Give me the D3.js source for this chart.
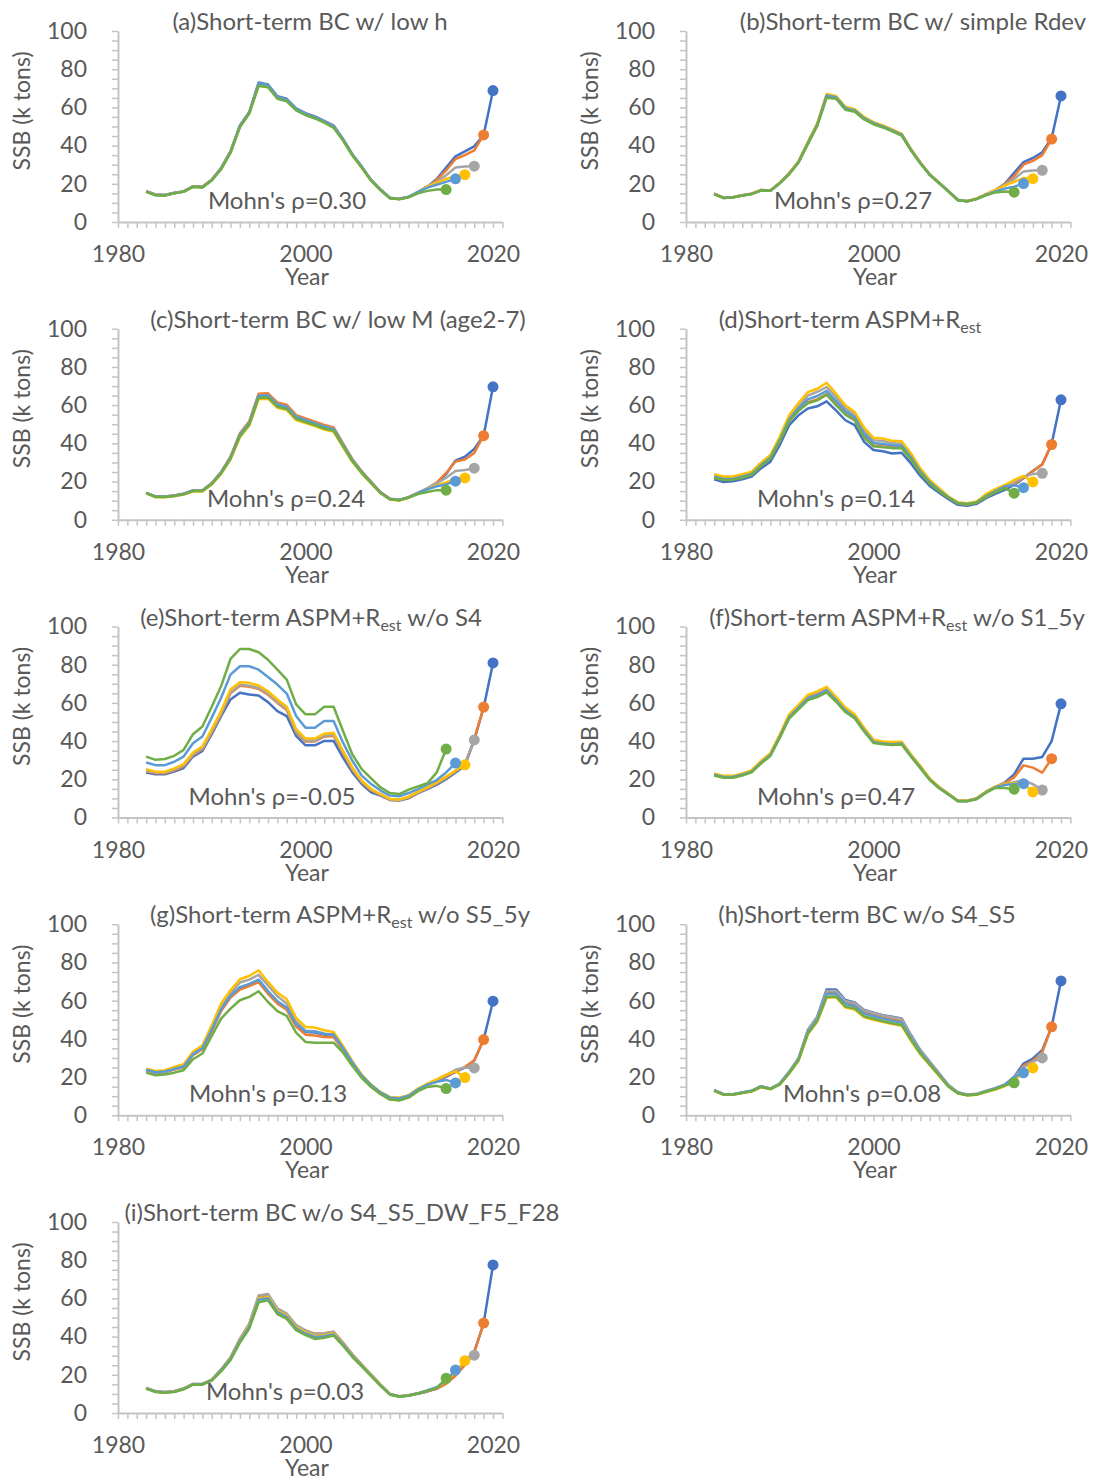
<!DOCTYPE html>
<html>
<head>
<meta charset="utf-8">
<script src="https://cdn.jsdelivr.net/npm/d3@7"></script>
<style>
  body { margin: 0; background: #fff; }
  text { font-family: Lato, "Open Sans", sans-serif; fill: #595959; }
</style>
</head>
<body>
<div id="chart"></div>
<script>
// Retrospective SSB runs, one line per terminal year (peel)
const years = [1983, 1984, 1985, 1986, 1987, 1988, 1989, 1990, 1991, 1992,
  1993, 1994, 1995, 1996, 1997, 1998, 1999, 2000, 2001, 2002,
  2003, 2004, 2005, 2006, 2007, 2008, 2009, 2010, 2011, 2012,
  2013, 2014, 2015, 2016, 2017, 2018, 2019, 2020];
const peelYears = [2020, 2019, 2018, 2017, 2016, 2015];
const seriesColors = ['#4472C4', '#ED7D31', '#A5A5A5', '#FFC000', '#5B9BD5', '#70AD47'];

const titles = [
  '(a)Short-term BC w/ low h',
  '(b)Short-term BC w/ simple Rdev',
  '(c)Short-term BC w/ low M (age2-7)',
  '(d)Short-term ASPM+R_est',
  '(e)Short-term ASPM+R_est w/o S4',
  '(f)Short-term ASPM+R_est w/o S1_5y',
  '(g)Short-term ASPM+R_est w/o S5_5y',
  '(h)Short-term BC w/o S4_S5',
  '(i)Short-term BC w/o S4_S5_DW_F5_F28'
];
const mohnRho = ['0.30', '0.27', '0.24', '0.14', '-0.05', '0.47', '0.13', '0.08', '0.03'];

// each panel: [2020, 2019, 2018, 2017, 2016, 2015] runs
const ssbA = [
  [16.1,14.4,14.2,15.3,16.0,18.7,18.4,22.2,28.3,37.0, 50.5,57.5,73.0,72.0,65.8,64.5,59.5,57.0,55.3,53.0, 50.5,43.5,35.5,29.0,22.0,17.0,12.7,12.2,13.2,15.8, 18.5,22.5,28.5,34.4,37.0,39.6,45.5,68.8],
  [16.0,14.3,14.1,15.2,16.0,18.6,18.3,22.1,28.2,36.8, 50.3,57.3,72.5,71.6,65.4,64.2,59.2,56.7,55.0,52.7, 50.2,43.3,35.3,28.8,21.9,16.9,12.6,12.1,13.1,15.7, 18.4,22.0,27.0,33.0,35.0,37.5,45.6],
  [16.0,14.3,14.1,15.2,16.0,18.6,18.3,22.0,28.1,36.7, 50.2,57.2,72.3,71.5,65.2,64.0,59.0,56.5,54.8,52.5, 50.0,43.2,35.2,28.7,21.8,16.8,12.5,12.0,13.0,15.6, 18.8,21.0,24.5,28.5,29.0,29.2],
  [15.9,14.2,14.0,15.1,15.9,18.5,18.2,21.9,28.0,36.5, 50.0,57.0,72.0,71.2,65.0,63.8,58.8,56.3,54.6,52.3, 49.8,43.0,35.1,28.6,21.8,16.8,12.5,12.0,13.0,15.6, 18.6,20.5,22.5,24.0,24.8],
  [15.9,14.2,14.0,15.1,15.9,18.5,18.2,21.9,28.0,36.6, 50.2,57.3,72.6,71.7,65.5,64.2,59.2,56.7,55.0,52.7, 50.2,43.3,35.3,28.8,21.9,16.9,12.6,12.1,13.1,15.6, 18.0,19.5,21.0,22.6],
  [15.8,14.0,13.8,15.0,15.8,18.4,18.1,21.7,27.6,36.2, 49.6,56.8,71.2,70.6,64.5,63.2,58.4,56.0,54.2,52.0, 49.3,42.6,34.8,28.4,21.6,16.6,12.4,11.9,12.9,15.0, 16.3,17.0,17.0]
];
const ssbB = [
  [14.8,12.7,13.0,14.0,14.8,16.7,16.5,20.5,25.3,31.4, 41.3,51.0,66.0,65.1,59.5,58.3,54.3,51.7,50.0,47.9, 45.7,37.8,30.9,24.8,20.5,16.1,11.5,10.9,12.2,14.4, 16.7,20.0,25.7,31.4,33.5,36.5,43.9,66.0],
  [14.8,12.7,13.0,14.0,14.8,16.7,16.5,20.5,25.4,31.6, 41.6,51.3,66.5,65.6,60.0,58.8,54.7,52.0,50.3,48.2, 46.0,38.0,31.0,24.9,20.5,16.1,11.5,10.9,12.2,14.4, 16.7,19.8,24.0,30.0,32.0,35.0,43.4],
  [14.7,12.6,12.9,13.9,14.7,16.6,16.4,20.4,25.3,31.5, 41.5,51.2,66.4,65.5,59.8,58.6,54.5,51.9,50.2,48.1, 45.9,37.9,31.0,24.9,20.5,16.1,11.5,10.9,12.2,14.4, 16.8,19.5,22.5,26.5,27.0,27.1],
  [14.8,12.7,13.0,14.0,14.8,16.8,16.6,20.6,25.6,31.8, 42.0,51.6,67.0,66.0,60.3,59.0,55.0,52.3,50.6,48.5, 46.3,38.2,31.2,25.0,20.6,16.2,11.6,11.0,12.3,14.5, 16.8,19.0,21.0,23.0,22.7],
  [14.7,12.6,12.9,13.9,14.7,16.6,16.4,20.4,25.3,31.4, 41.4,51.0,66.2,65.3,59.6,58.4,54.4,51.8,50.1,48.0, 45.8,37.8,30.9,24.8,20.5,16.1,11.5,10.9,12.1,14.2, 16.0,17.5,18.5,20.1],
  [14.6,12.5,12.8,13.8,14.6,16.5,16.3,20.2,25.0,31.0, 40.8,50.3,65.0,64.5,58.8,57.7,53.7,51.2,49.5,47.4, 45.2,37.4,30.6,24.6,20.3,15.9,11.4,10.8,12.0,14.0, 15.5,16.0,15.6]
];
const ssbC = [
  [14.1,12.2,12.2,12.7,13.6,15.3,15.3,19.1,24.9,32.7, 44.9,51.0,65.4,65.7,60.9,59.7,54.4,52.7,51.0,49.2, 48.0,39.7,31.5,25.2,19.7,14.4,11.0,10.4,11.8,14.1, 16.2,18.8,24.0,31.0,33.0,37.0,44.0,69.6],
  [14.1,12.2,12.2,12.7,13.6,15.3,15.3,19.2,25.0,33.0, 45.3,51.5,66.0,66.2,61.4,60.2,54.8,53.1,51.4,49.6, 48.3,40.0,31.7,25.3,19.8,14.5,11.0,10.4,11.8,14.1, 16.4,19.5,24.5,30.5,31.5,35.0,44.0],
  [14.0,12.1,12.1,12.6,13.5,15.2,15.2,19.0,24.8,32.6, 44.7,50.8,65.0,65.2,60.5,59.3,54.0,52.3,50.6,48.8, 47.6,39.4,31.3,25.0,19.6,14.3,10.9,10.3,11.7,14.0, 16.5,19.0,22.0,25.5,26.0,27.0],
  [13.8,11.8,11.8,12.3,13.2,14.8,14.8,18.4,24.0,31.5, 43.2,49.3,63.2,63.4,58.6,57.5,52.2,50.6,49.0,47.2, 46.0,38.0,30.2,24.2,19.0,13.9,10.6,10.1,11.5,13.8, 16.0,18.0,19.5,21.5,21.9],
  [14.0,12.1,12.1,12.6,13.5,15.2,15.2,19.0,24.7,32.4, 44.4,50.5,64.8,65.0,60.2,59.0,53.8,52.1,50.4,48.6, 47.4,39.2,31.1,24.9,19.5,14.2,10.8,10.3,11.7,14.0, 16.0,17.5,18.5,20.2],
  [13.9,11.9,11.9,12.4,13.3,15.0,15.0,18.7,24.3,31.9, 43.7,49.8,63.8,64.0,59.2,58.0,52.8,51.2,49.6,47.8, 46.6,38.6,30.6,24.5,19.2,14.0,10.7,10.2,11.6,13.5, 14.5,15.5,15.5]
];
const ssbD = [
  [21.2,19.8,20.1,21.2,22.6,26.9,30.4,39.1,49.5,54.7, 58.2,59.4,62.0,57.3,52.1,49.5,40.8,36.5,35.9,34.7, 35.1,29.5,22.9,17.7,14.2,10.8,7.8,7.3,8.3,11.3, 13.5,15.6,18.2,21.7,25.5,29.0,39.6,62.8],
  [22.4,21.2,21.5,22.4,23.9,28.4,32.4,41.5,52.0,57.5, 61.5,63.0,65.8,60.5,55.4,52.4,43.4,38.9,38.4,37.9, 37.9,31.9,24.8,19.3,15.2,11.6,8.5,8.0,9.0,12.0, 14.5,16.8,18.8,22.0,25.5,29.0,39.4],
  [23.0,21.8,21.8,23.0,24.4,29.0,33.0,42.3,53.3,59.5, 65.0,67.0,69.5,64.3,58.3,55.0,46.8,41.6,41.2,40.0, 39.8,33.6,26.0,20.1,15.9,11.8,8.9,8.4,9.2,13.0, 15.5,17.5,19.5,22.5,24.0,24.3],
  [23.8,22.6,22.6,23.8,25.2,29.9,33.9,43.4,54.7,61.1, 66.8,68.6,71.7,66.0,59.9,56.4,48.3,42.9,42.5,41.3, 41.1,34.7,26.9,20.8,16.5,12.2,9.2,8.7,9.5,13.5, 16.0,18.2,20.8,22.9,19.8],
  [22.6,21.3,21.4,22.6,24.0,28.6,32.6,41.8,52.5,58.3, 63.0,64.8,67.5,62.2,56.8,53.6,45.0,40.2,39.7,39.0, 38.8,32.7,25.3,19.6,15.5,11.7,8.7,8.2,9.1,12.4, 15.0,17.5,18.0,16.8],
  [22.0,20.8,21.0,22.0,23.5,28.0,32.0,41.0,51.5,57.0, 61.0,62.5,65.5,60.0,55.0,52.0,43.0,38.5,38.0,37.5, 37.5,31.5,24.5,19.0,15.0,11.5,8.5,8.0,9.0,12.0, 14.5,16.5,13.9]
];
const ssbE = [
  [23.6,22.6,22.6,24.0,25.9,31.9,34.9,43.6,53.1,61.8, 65.3,64.4,63.9,60.4,55.7,53.1,42.7,37.8,37.8,40.1, 40.1,31.4,23.6,17.5,13.2,11.5,9.2,8.9,10.1,12.8, 14.9,17.2,20.1,23.6,27.1,40.6,57.5,80.9],
  [24.2,23.2,23.2,24.6,26.8,32.6,35.8,44.6,54.0,65.0, 69.0,68.5,67.3,64.3,60.0,56.3,44.5,39.8,39.8,42.3, 42.8,33.5,25.0,18.4,14.2,11.8,9.3,9.0,10.4,13.0, 15.3,17.8,20.7,24.2,27.8,41.0,57.8],
  [24.5,23.5,23.5,25.0,27.3,33.0,36.3,45.0,54.5,65.5, 69.5,69.0,67.8,64.8,60.5,56.8,45.0,40.3,40.3,42.8, 43.3,34.0,25.5,18.8,14.5,12.0,9.5,9.2,10.6,13.2, 15.5,18.0,21.0,24.5,28.0,40.6],
  [25.3,24.0,24.0,25.7,28.0,34.0,37.2,46.2,55.7,67.0, 70.8,70.5,69.1,66.1,61.8,58.0,46.2,41.3,41.3,43.9, 44.4,34.9,26.2,19.3,14.9,12.3,9.7,9.4,10.9,13.5, 15.8,18.4,21.4,24.5,27.6],
  [28.8,27.4,27.4,29.2,31.9,38.9,42.4,52.3,62.7,74.8, 79.2,79.2,77.4,73.6,69.6,64.9,53.1,47.0,47.0,50.5, 50.5,39.2,29.7,21.9,17.5,14.1,11.5,11.1,12.8,14.9, 17.2,19.6,23.6,28.5],
  [31.9,30.2,30.6,32.3,35.4,43.6,47.6,58.0,68.8,83.0, 88.2,88.2,86.5,82.6,77.4,72.2,59.2,54.0,54.0,58.0, 58.0,45.3,33.0,25.3,20.5,15.8,12.8,12.3,14.6,16.3, 17.9,23.6,35.8]
];
const ssbF = [
  [22.6,21.4,21.4,22.6,24.3,29.0,33.0,42.6,53.0,57.9, 63.1,64.7,67.3,62.1,56.5,53.0,46.1,40.0,39.1,38.8, 39.1,32.5,26.4,20.0,15.7,12.2,8.7,8.7,9.9,13.4, 16.0,18.3,22.6,30.8,30.8,31.7,40.0,59.5],
  [22.6,21.4,21.4,22.6,24.3,29.0,33.0,42.6,53.0,58.0, 63.3,65.0,67.6,62.4,56.8,53.2,46.3,40.1,39.2,38.9, 39.2,32.6,26.5,20.1,15.8,12.3,8.8,8.8,10.0,13.4, 16.0,18.0,21.0,27.3,26.1,23.5,30.8],
  [22.8,21.6,21.6,22.8,24.5,29.3,33.4,43.0,53.5,58.5, 63.8,65.5,68.0,62.8,57.2,53.6,46.6,40.4,39.5,39.2, 39.4,32.8,26.7,20.3,15.9,12.3,8.8,8.8,10.0,13.5, 16.0,17.5,18.5,19.5,17.5,14.4],
  [23.0,21.8,21.8,23.0,24.8,29.6,33.7,43.4,54.0,59.0, 64.2,66.0,68.4,63.2,57.6,54.0,47.0,40.7,39.8,39.5, 39.7,33.0,26.9,20.5,16.0,12.4,8.9,8.9,10.1,13.6, 16.2,17.5,18.0,17.5,13.4],
  [22.4,21.2,21.2,22.4,24.0,28.7,32.7,42.2,52.5,57.5, 62.5,64.0,66.6,61.5,56.0,52.5,45.6,39.6,38.7,38.4, 38.7,32.2,26.1,19.8,15.5,12.1,8.6,8.6,9.8,13.2, 15.8,17.0,17.5,17.7],
  [22.0,20.8,20.8,22.0,23.6,28.2,32.2,41.6,51.8,56.6, 61.5,63.0,65.5,60.6,55.2,51.8,45.0,39.0,38.3,38.0, 38.2,31.8,25.8,19.6,15.3,12.0,8.5,8.5,9.6,13.0, 15.5,15.5,14.8]
];
const ssbG = [
  [23.6,22.3,22.7,24.1,25.3,31.8,34.9,44.5,55.0,62.0, 66.3,68.1,70.2,64.2,59.0,55.8,47.1,43.6,43.3,42.2, 41.9,34.9,27.4,20.6,15.7,11.7,9.1,8.7,10.1,13.4, 16.1,18.0,20.1,22.7,25.0,28.5,39.6,59.7],
  [23.4,22.1,22.5,23.9,25.1,31.5,34.6,44.1,54.6,61.6, 65.8,67.6,69.7,63.6,58.4,55.2,46.4,42.2,41.8,41.0, 40.8,34.3,27.0,20.4,15.5,11.6,9.0,8.6,10.0,13.3, 16.2,18.3,20.5,23.0,25.2,28.8,39.6],
  [23.5,22.2,22.6,24.2,25.7,32.0,35.3,45.8,57.0,63.8, 69.5,71.0,73.5,68.0,62.3,58.5,49.2,44.2,44.0,42.8, 42.0,35.0,27.3,20.5,15.5,11.8,9.3,9.0,10.3,13.7, 16.2,18.5,21.0,23.8,25.0,24.8],
  [24.4,23.2,23.6,25.3,26.7,33.2,36.6,47.1,58.5,65.4, 71.2,72.9,75.9,69.8,64.2,60.7,51.0,46.2,45.9,44.5, 43.6,36.3,28.3,21.3,16.1,12.2,9.6,9.2,10.5,14.0, 16.6,18.8,21.3,23.0,19.7],
  [23.8,22.5,22.9,24.3,25.5,32.0,35.2,44.9,55.5,62.6, 67.0,68.8,71.0,65.0,59.7,56.5,47.7,44.0,43.7,42.6, 42.3,35.2,27.6,20.7,15.8,11.8,9.2,8.8,10.2,13.5, 16.0,17.5,18.5,16.9],
  [22.3,20.9,21.3,22.3,23.6,29.3,32.3,41.5,50.6,55.8, 60.2,62.0,64.9,59.3,54.5,52.0,43.3,38.4,38.0,38.0, 38.0,32.8,25.8,19.5,14.8,11.0,8.2,7.7,9.2,12.6, 14.8,15.4,14.0]
];
const ssbH = [
  [13.1,11.0,11.0,11.9,12.8,15.2,14.0,16.6,22.7,29.7, 44.6,51.6,65.9,65.9,60.3,59.1,55.1,53.7,52.4,51.6, 50.7,42.0,34.1,28.0,21.9,15.7,11.9,10.8,11.0,12.6, 14.0,15.7,20.1,27.1,29.7,34.1,46.3,70.3],
  [13.0,10.9,10.9,11.8,12.7,15.0,13.9,16.4,22.4,29.3, 43.8,50.6,64.2,64.3,58.8,57.7,53.8,52.4,51.1,50.2, 49.2,40.8,33.2,27.3,21.4,15.4,11.7,10.6,10.9,12.5, 13.9,15.6,19.5,26.0,28.5,33.0,46.3],
  [13.1,11.0,11.0,11.9,12.8,15.1,14.0,16.6,22.8,29.8, 44.6,51.4,65.0,65.2,59.8,58.8,54.8,53.5,52.2,51.3, 50.5,41.8,34.0,28.0,22.0,15.8,12.0,10.9,11.2,12.9, 14.3,16.0,20.0,25.0,28.0,30.0],
  [12.8,10.7,10.7,11.6,12.4,14.6,13.6,16.0,21.8,28.5, 42.5,49.0,61.5,61.8,56.4,55.4,51.3,50.0,48.8,47.8, 46.9,39.0,31.8,26.2,20.6,14.9,11.4,10.4,10.7,12.2, 13.5,15.2,18.5,22.0,24.8],
  [13.0,10.9,10.9,11.8,12.7,15.0,13.8,16.3,22.3,29.1, 43.4,50.0,63.5,63.6,58.2,57.1,53.2,51.8,50.5,49.5, 48.5,40.4,32.9,27.0,21.2,15.2,11.6,10.6,10.9,12.5, 14.0,16.0,20.0,22.2],
  [12.9,10.8,10.8,11.7,12.5,14.8,13.7,16.1,22.0,28.8, 42.8,49.4,62.0,62.2,56.9,55.9,51.8,50.5,49.2,48.2, 47.3,39.5,32.3,26.6,20.9,15.0,11.5,10.5,10.8,12.3, 13.7,15.5,17.0]
];
const ssbI = [
  [13.0,11.3,10.9,11.3,12.7,15.1,15.1,17.3,22.5,28.6, 38.1,45.9,60.1,61.0,53.7,51.1,45.1,42.5,40.7,41.1, 42.0,36.4,30.3,25.1,19.9,14.7,9.9,8.7,9.2,10.1, 11.3,12.7,15.5,20.5,26.5,32.1,46.8,77.5],
  [13.1,11.4,11.0,11.4,12.8,15.2,15.2,17.5,22.8,29.0, 38.6,46.5,61.2,62.0,54.5,51.8,45.8,43.2,41.5,41.7, 42.5,36.9,30.7,25.4,20.1,14.9,10.0,8.8,9.3,10.2, 11.4,12.8,15.3,19.5,25.0,31.5,47.1],
  [13.1,11.4,11.0,11.4,12.8,15.2,15.2,17.5,22.8,29.1, 38.8,46.8,61.5,62.3,54.8,52.0,46.0,43.3,41.3,41.6, 42.5,36.8,30.6,25.3,20.0,14.8,10.0,8.8,9.4,10.4, 11.8,13.3,16.5,22.0,26.5,30.3],
  [12.9,11.1,10.7,11.2,12.6,15.0,15.0,17.2,22.4,28.5, 38.0,45.8,60.0,60.8,53.5,50.9,44.9,42.2,40.3,40.7, 41.6,36.1,30.1,25.0,19.8,14.6,9.8,8.7,9.2,10.3, 11.7,13.2,16.5,21.5,27.4],
  [12.9,11.2,10.8,11.2,12.6,15.0,15.0,17.2,22.3,28.3, 37.6,45.2,59.3,60.1,52.8,50.2,44.2,41.6,39.8,40.2, 41.1,35.8,29.8,24.8,19.6,14.5,9.8,8.6,9.2,10.3, 11.8,13.5,17.0,22.5],
  [12.8,11.0,10.6,11.0,12.4,14.8,14.8,17.0,21.8,27.6, 36.8,44.2,58.0,59.0,51.8,49.3,43.4,40.8,38.8,39.4, 40.5,35.2,29.3,24.4,19.3,14.2,9.6,8.5,9.0,10.2, 11.6,13.0,18.2]
];
const panels = [ssbA, ssbB, ssbC, ssbD, ssbE, ssbF, ssbG, ssbH, ssbI];

// layout (pixels)
const width = 1094, height = 1479;
const colLeft = [118, 686];
const rowBase0 = 222, rowStep = 297.75, plotH = 191, pxPerYear = 9.375;
const titleCx = [192, 227, 220, 164, 193, 211, 222, 181, 224];
const mohnCx = [169, 167, 168, 150, 154, 150, 150, 176, 167];
const axisColor = '#c4c4c4';

const svg = d3.select('#chart').append('svg')
  .attr('width', width).attr('height', height);
svg.append('rect').attr('width', width).attr('height', height).attr('fill', '#fff');

const line = d3.line();

panels.forEach((runs, p) => {
  const left = colLeft[p % 2];
  const base = rowBase0 + Math.floor(p / 2) * rowStep;
  const x = d3.scaleLinear().domain([1980, 2021]).range([left, left + 41 * pxPerYear]);
  const y = d3.scaleLinear().domain([0, 100]).range([base, base - plotH]);
  const g = svg.append('g');

  // y axis
  const ya = g.append('g')
    .attr('transform', `translate(${left},0)`)
    .call(d3.axisLeft(y).tickValues(d3.range(0, 101, 5))
      .tickFormat(d => d % 20 ? '' : d).tickSize(6).tickPadding(25).tickSizeOuter(0));
  // x axis
  const xa = g.append('g')
    .attr('transform', `translate(0,${base})`)
    .call(d3.axisBottom(x).tickValues(d3.range(1980, 2022))
      .tickFormat(d => d % 20 ? '' : d).tickSize(6).tickSizeOuter(0));
  xa.selectAll('.tick text').attr('y', 40).attr('dy', null);

  [ya, xa].forEach(a => {
    a.attr('font-size', 23);
    a.select('.domain').attr('stroke', axisColor).attr('stroke-width', 2);
    a.selectAll('.tick line').attr('stroke', axisColor).attr('stroke-width', 1.5);
  });

  // runs: 2020 first, 2015 on top
  runs.forEach((vals, s) => {
    const pts = vals.map((v, i) => [x(years[i]), y(v)]);
    g.append('path')
      .attr('d', line(pts))
      .attr('fill', 'none')
      .attr('stroke', seriesColors[s])
      .attr('stroke-width', 2.5)
      .attr('stroke-linejoin', 'round');
    const last = pts[pts.length - 1];
    g.append('circle')
      .attr('cx', last[0]).attr('cy', last[1]).attr('r', 5.5)
      .attr('fill', seriesColors[s]);
  });

  // title, with R_est subscript
  const t = g.append('text')
    .attr('x', left + titleCx[p]).attr('y', base - plotH - 1)
    .attr('text-anchor', 'middle').attr('font-size', 24);
  titles[p].split('_est').forEach((part, k) => {
    if (k > 0) {
      t.append('tspan').attr('font-size', 16).attr('dy', 5).text('est');
      t.append('tspan').attr('dy', -5).text(part);
    } else {
      t.append('tspan').text(part);
    }
  });

  g.append('text')
    .attr('x', left + mohnCx[p]).attr('y', base - 13)
    .attr('text-anchor', 'middle').attr('font-size', 24)
    .text(`Mohn's ρ=${mohnRho[p]}`);

  g.append('text')
    .attr('x', left + 189).attr('y', base + 63)
    .attr('text-anchor', 'middle').attr('font-size', 23)
    .text('Year');

  g.append('text')
    .attr('transform', `translate(${left - 96},${base - 111}) rotate(-90)`)
    .attr('text-anchor', 'middle').attr('dy', '0.35em').attr('font-size', 23)
    .text('SSB (k tons)');
});
</script>
</body>
</html>
